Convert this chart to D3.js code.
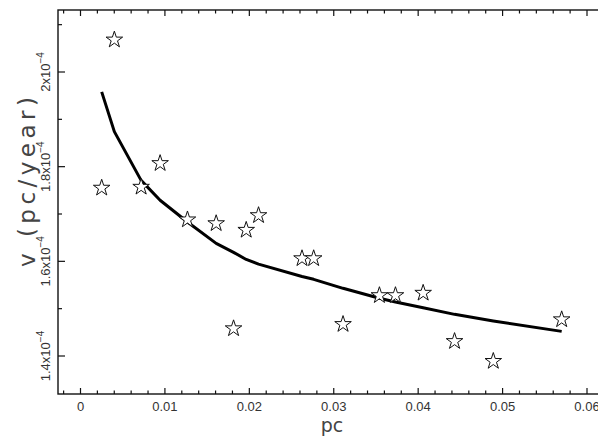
<!DOCTYPE html>
<html><head><meta charset="utf-8">
<script src="https://cdn.jsdelivr.net/npm/d3@7"></script>
<style>body{margin:0;background:#fff}svg{display:block}</style>
</head><body>
<svg id="c" width="598" height="437"></svg>
<script>
// star data: distance (pc), velocity (units of 1e-4 pc/year)
const distance = [0.00251,0.00401,0.00718,0.00943,0.01267,0.01607,0.01813,0.01963,0.02109,0.02624,0.02762,0.03110,0.03541,0.03731,0.04059,0.04431,0.04890,0.05700];
const velocity = [1.755,2.068,1.757,1.807,1.688,1.680,1.458,1.666,1.697,1.606,1.606,1.467,1.528,1.528,1.533,1.431,1.389,1.477];
// fitted curve, read at the same distances
const fitVelocity = [1.958,1.874,1.771,1.729,1.683,1.638,1.619,1.604,1.594,1.568,1.562,1.543,1.522,1.514,1.502,1.488,1.474,1.452];
const xTicks = [0,0.01,0.02,0.03,0.04,0.05,0.06];
const xTickLabels = ["0","0.01","0.02","0.03","0.04","0.05","0.06"];
const yTicks = [1.4,1.6,1.8,2.0];
const yTickLabels = ["1.4x10","1.6x10","1.8x10","2x10"];
const xTitle = "pc";
const yTitle = "v (pc/year)";

const svg = d3.select("#c");
const x = d3.scaleLinear().domain([0,0.06]).range([80.5,587]);
const y = d3.scaleLinear().domain([1.4,2.0]).range([356,72]);
const fL = 58, fT = 10, fB = 394, fR = x(0.0615);

const g = svg.append("g");
// frame
g.append("rect").attr("x",fL).attr("y",fT).attr("width",fR-fL).attr("height",fB-fT)
 .attr("fill","none").attr("stroke","#111").attr("stroke-width",1.4);

// x ticks (bottom and top, inward)
const xMinor = d3.range(-0.002,0.0616,0.002).filter(v=>x(v)>fL+1 && x(v)<fR);
xMinor.forEach(v=>{
  const major = Math.abs(Math.round(v*100)-v*100)<1e-6;
  const L = major?6:3.5;
  g.append("line").attr("x1",x(v)).attr("x2",x(v)).attr("y1",fB).attr("y2",fB-L).attr("stroke","#111").attr("stroke-width",1.2);
  g.append("line").attr("x1",x(v)).attr("x2",x(v)).attr("y1",fT).attr("y2",fT+L).attr("stroke","#111").attr("stroke-width",1.2);
});
// y ticks (left, inward)
const yAll = d3.range(1.3,2.15,0.1).filter(v=>y(v)>fT+1 && y(v)<fB-1);
yAll.forEach(v=>{
  const major = Math.abs(Math.round(v*5)-v*5)<1e-6;
  const L = major?7:4;
  g.append("line").attr("x1",fL).attr("x2",fL+L).attr("y1",y(v)).attr("y2",y(v)).attr("stroke","#111").attr("stroke-width",1.2);
});

// x tick labels
xTicks.forEach((v,i)=>{
  g.append("text").attr("x",x(v)).attr("y",411).attr("text-anchor","middle")
   .attr("font-family","Liberation Sans, Arial, sans-serif").attr("font-size",13).attr("fill","#333")
   .text(xTickLabels[i]);
});
// y tick labels (rotated, with superscript)
yTicks.forEach((v,i)=>{
  const t = g.append("text").attr("transform",`translate(50,${y(v)}) rotate(-90)`).attr("text-anchor","middle")
   .attr("font-family","Liberation Sans, Arial, sans-serif").attr("font-size",13).attr("fill","#333");
  t.append("tspan").text(yTickLabels[i]);
  t.append("tspan").attr("dy",-6).attr("font-size",10).text("\u22124");
});

// axis titles
g.append("text").attr("x",x(0.0298)).attr("y",432).attr("text-anchor","middle")
 .attr("font-family","DejaVu Sans, sans-serif").attr("font-size",19).attr("fill","#444").text(xTitle);
g.append("text").attr("transform","translate(35,182) rotate(-90)").attr("text-anchor","middle")
 .attr("font-family","DejaVu Sans, sans-serif").attr("font-size",23).attr("fill","#444")
 .attr("textLength",170).attr("lengthAdjust","spacing").text(yTitle);

// fit curve
const line = d3.line().x((d,i)=>x(distance[i])).y(d=>y(d));
g.append("path").datum(fitVelocity).attr("d",line).attr("fill","none").attr("stroke","#000").attr("stroke-width",3).attr("stroke-linejoin","round");

// stars
const star = d3.symbol().type(d3.symbolStar).size(85);
g.selectAll("path.star").data(velocity).join("path").attr("class","star")
 .attr("transform",(d,i)=>`translate(${x(distance[i])},${y(d)})`)
 .attr("d",star).attr("fill","#fff").attr("stroke","#111").attr("stroke-width",1);
</script>
</body></html>
